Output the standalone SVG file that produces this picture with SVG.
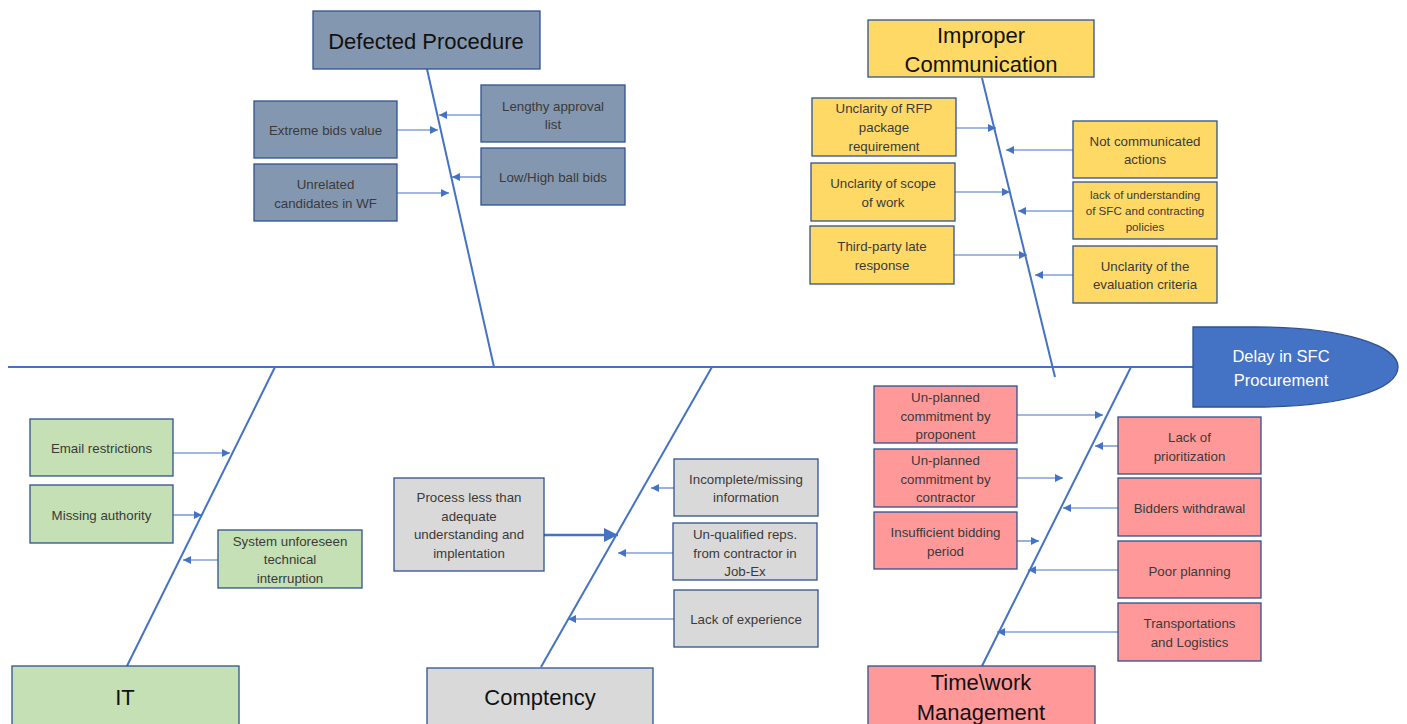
<svg xmlns="http://www.w3.org/2000/svg" width="1407" height="724" viewBox="0 0 1407 724">
<style>
.b{stroke:#2F528F;stroke-width:1.3}
.dp{fill:#8497B0}.ic{fill:#FFD966}.it{fill:#C5E0B4}.cp{fill:#D9D9D9}.tm{fill:#FF9999}
.t{font-family:"Liberation Sans",Arial,sans-serif;font-size:13.3px;fill:#3a3a3a;text-anchor:middle}
.s{font-size:11.6px}
.h{font-family:"Liberation Sans",Arial,sans-serif;font-size:22px;fill:#111;text-anchor:middle}
.bone{stroke:#4472C4;stroke-width:2;fill:none}
.ar{stroke:#4472C4;stroke-width:1.1;fill:none;marker-end:url(#ah)}
.art{stroke:#4472C4;stroke-width:2.6;fill:none;marker-end:url(#ahb)}
</style>
<defs>
<marker id="ah" viewBox="0 0 10 10" refX="10" refY="5" markerUnits="userSpaceOnUse" markerWidth="9" markerHeight="8" orient="auto"><path d="M0,0 L10,5 L0,10 z" fill="#4472C4"/></marker>
<marker id="ahb" viewBox="0 0 10 10" refX="10" refY="5" markerUnits="userSpaceOnUse" markerWidth="16" markerHeight="14" orient="auto"><path d="M0,0 L10,5 L0,10 z" fill="#4472C4"/></marker>
</defs>
<rect width="1407" height="724" fill="#fff"/>

<g id="connectors">
<line class="bone" x1="8" y1="367" x2="1193" y2="367"/>
<line class="bone" x1="427" y1="69" x2="494" y2="367"/>
<line class="bone" x1="982" y1="78" x2="1055" y2="377"/>
<line class="bone" x1="275" y1="367" x2="127" y2="666"/>
<line class="bone" x1="712" y1="367" x2="541" y2="667"/>
<line class="bone" x1="1131" y1="367" x2="982" y2="666"/>
<!-- defected -->
<line class="ar" x1="397" y1="130" x2="438" y2="130"/>
<line class="ar" x1="390" y1="193" x2="449" y2="193"/>
<line class="ar" x1="481" y1="115" x2="439" y2="115"/>
<line class="ar" x1="481" y1="177" x2="452" y2="177"/>
<!-- improper -->
<line class="ar" x1="956" y1="128" x2="996" y2="128"/>
<line class="ar" x1="955" y1="192" x2="1010" y2="192"/>
<line class="ar" x1="954" y1="255" x2="1027" y2="255"/>
<line class="ar" x1="1073" y1="150" x2="1006" y2="150"/>
<line class="ar" x1="1073" y1="211" x2="1018" y2="211"/>
<line class="ar" x1="1073" y1="275" x2="1035" y2="275"/>
<!-- IT -->
<line class="ar" x1="173" y1="453" x2="230" y2="453"/>
<line class="ar" x1="173" y1="515" x2="202" y2="515"/>
<line class="ar" x1="218" y1="560" x2="183" y2="560"/>
<!-- competency -->
<line class="art" x1="544" y1="535" x2="618" y2="535"/>
<line class="ar" x1="674" y1="488" x2="651" y2="488"/>
<line class="ar" x1="673" y1="553" x2="618" y2="553"/>
<line class="ar" x1="678" y1="619" x2="568" y2="619"/>
<!-- time -->
<line class="ar" x1="1017" y1="415" x2="1103" y2="415"/>
<line class="ar" x1="1017" y1="478" x2="1063" y2="478"/>
<line class="ar" x1="1017" y1="541" x2="1039" y2="541"/>
<line class="ar" x1="1118" y1="446" x2="1095" y2="446"/>
<line class="ar" x1="1118" y1="508" x2="1063" y2="508"/>
<line class="ar" x1="1118" y1="570" x2="1028" y2="570"/>
<line class="ar" x1="1118" y1="632" x2="997" y2="632"/>
</g>

<g id="delay">
<path d="M1193,327 L1255,327 C1345,327 1398,346 1398,367 C1398,389 1345,407 1255,407 L1193,407 Z" fill="#4472C4" stroke="#2F528F" stroke-width="1.3"/>
<text class="t" style="fill:#fff;font-size:16.5px" x="1281" y="362">Delay in SFC</text>
<text class="t" style="fill:#fff;font-size:16.5px" x="1281" y="386">Procurement</text>
</g>

<g id="defected-procedure">
<rect class="b dp" x="313" y="11" width="227" height="58"/>
<text class="h" x="426" y="49">Defected Procedure</text>
</g>
<g id="extreme-bids"><rect class="b dp" x="254" y="101" width="143" height="57"/><text class="t" x="325.5" y="134.5">Extreme bids value</text></g>
<g id="unrelated"><rect class="b dp" x="254" y="164" width="143" height="57"/><text class="t" x="325.5" y="188.5">Unrelated</text><text class="t" x="325.5" y="207.5">candidates in WF</text></g>
<g id="lengthy"><rect class="b dp" x="481" y="85" width="144" height="57"/><text class="t" x="553" y="110.5">Lengthy approval</text><text class="t" x="553" y="128.5">list</text></g>
<g id="lowhigh"><rect class="b dp" x="481" y="148" width="144" height="57"/><text class="t" x="553" y="181.5">Low/High ball bids</text></g>

<g id="improper-communication">
<rect class="b ic" x="868" y="20" width="226" height="57"/>
<text class="h" x="981" y="43">Improper</text>
<text class="h" x="981" y="72">Communication</text>
</g>
<g id="rfp"><rect class="b ic" x="812" y="98" width="144" height="58"/><text class="t" x="884" y="113">Unclarity of RFP</text><text class="t" x="884" y="132">package</text><text class="t" x="884" y="151">requirement</text></g>
<g id="scope"><rect class="b ic" x="811" y="163" width="144" height="58"/><text class="t" x="883" y="187.5">Unclarity of scope</text><text class="t" x="883" y="206.5">of work</text></g>
<g id="third-party"><rect class="b ic" x="810" y="226" width="144" height="58"/><text class="t" x="882" y="250.5">Third-party late</text><text class="t" x="882" y="269.5">response</text></g>
<g id="not-communicated"><rect class="b ic" x="1073" y="121" width="144" height="57"/><text class="t" x="1145" y="145.5">Not communicated</text><text class="t" x="1145" y="163.5">actions</text></g>
<g id="lack-understanding"><rect class="b ic" x="1073" y="182" width="144" height="57"/><text class="t s" x="1145" y="199">lack of understanding</text><text class="t s" x="1145" y="215">of SFC and contracting</text><text class="t s" x="1145" y="231">policies</text></g>
<g id="evaluation"><rect class="b ic" x="1073" y="246" width="144" height="57"/><text class="t" x="1145" y="270.5">Unclarity of the</text><text class="t" x="1145" y="288.5">evaluation criteria</text></g>

<g id="it">
<rect class="b it" x="12" y="666" width="227" height="60"/>
<text class="h" x="125" y="705">IT</text>
</g>
<g id="email"><rect class="b it" x="30" y="419" width="143" height="57"/><text class="t" x="101.5" y="452.5">Email restrictions</text></g>
<g id="missing-authority"><rect class="b it" x="30" y="485" width="143" height="58"/><text class="t" x="101.5" y="519.5">Missing authority</text></g>
<g id="system"><rect class="b it" x="218" y="530" width="144" height="58"/><text class="t" x="290" y="545.5">System unforeseen</text><text class="t" x="290" y="563.5">technical</text><text class="t" x="290" y="582.5">interruption</text></g>

<g id="comptency">
<rect class="b cp" x="427" y="668" width="226" height="58"/>
<text class="h" x="540" y="705">Comptency</text>
</g>
<g id="process"><rect class="b cp" x="394" y="478" width="150" height="93"/><text class="t" x="469" y="501.5">Process less than</text><text class="t" x="469" y="520.5">adequate</text><text class="t" x="469" y="538.5">understanding and</text><text class="t" x="469" y="557.5">implentation</text></g>
<g id="incomplete"><rect class="b cp" x="674" y="459" width="144" height="57"/><text class="t" x="746" y="483.5">Incomplete/missing</text><text class="t" x="746" y="501.5">information</text></g>
<g id="unqualified"><rect class="b cp" x="673" y="523" width="144" height="57"/><text class="t" x="745" y="538.5">Un-qualified reps.</text><text class="t" x="745" y="557.5">from contractor in</text><text class="t" x="745" y="575.5">Job-Ex</text></g>
<g id="lack-experience"><rect class="b cp" x="674" y="590" width="144" height="57"/><text class="t" x="746" y="623.5">Lack of experience</text></g>

<g id="time-work-management">
<rect class="b tm" x="868" y="666" width="227" height="60"/>
<text class="h" x="981" y="690">Time\work</text>
<text class="h" x="981" y="720">Management</text>
</g>
<g id="proponent"><rect class="b tm" x="874" y="386" width="143" height="57"/><text class="t" x="945.5" y="401.5">Un-planned</text><text class="t" x="945.5" y="420.5">commitment by</text><text class="t" x="945.5" y="438.5">proponent</text></g>
<g id="contractor"><rect class="b tm" x="874" y="449" width="143" height="58"/><text class="t" x="945.5" y="464.5">Un-planned</text><text class="t" x="945.5" y="483.5">commitment by</text><text class="t" x="945.5" y="501.5">contractor</text></g>
<g id="insufficient"><rect class="b tm" x="874" y="512" width="143" height="57"/><text class="t" x="945.5" y="536.5">Insufficient bidding</text><text class="t" x="945.5" y="555.5">period</text></g>
<g id="prioritization"><rect class="b tm" x="1118" y="417" width="143" height="57"/><text class="t" x="1189.5" y="441.5">Lack of</text><text class="t" x="1189.5" y="460.5">prioritization</text></g>
<g id="bidders"><rect class="b tm" x="1118" y="478" width="143" height="58"/><text class="t" x="1189.5" y="512.5">Bidders withdrawal</text></g>
<g id="poor-planning"><rect class="b tm" x="1118" y="541" width="143" height="57"/><text class="t" x="1189.5" y="575.5">Poor planning</text></g>
<g id="transport"><rect class="b tm" x="1118" y="603" width="143" height="58"/><text class="t" x="1189.5" y="627.5">Transportations</text><text class="t" x="1189.5" y="646.5">and Logistics</text></g>
</svg>
